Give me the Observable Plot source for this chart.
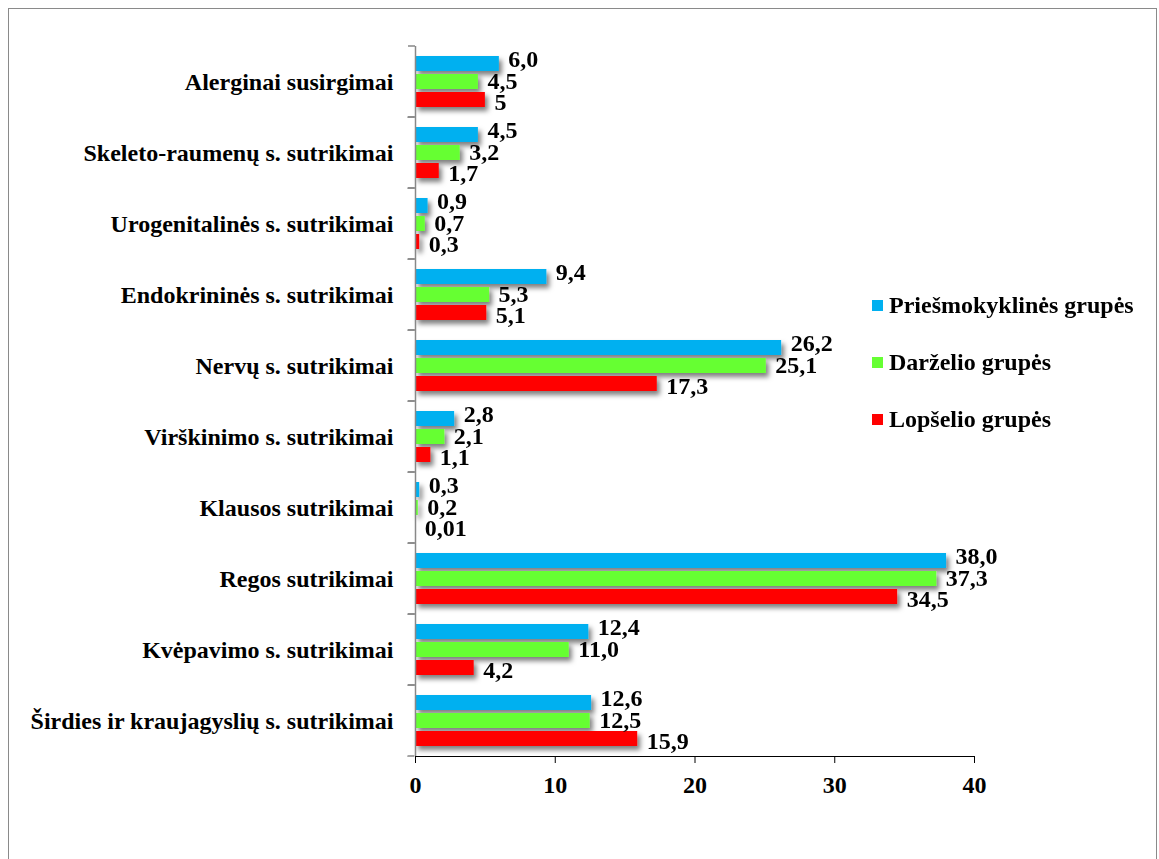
<!DOCTYPE html>
<html>
<head>
<meta charset="utf-8">
<script src="https://cdn.jsdelivr.net/npm/d3@7"></script>
<script src="https://cdn.jsdelivr.net/npm/@observablehq/plot@0.6"></script>
<style>
  html, body { margin: 0; padding: 0; background: #fff; overflow: hidden; }
  #wrap { position: relative; width: 1159px; height: 859px; }
  #border { position: absolute; left: 8px; top: 8px; width: 1149px; height: 900px; border: 1.5px solid #8a8a8a; box-sizing: border-box; pointer-events: none; }
  #chart { position: absolute; left: 0; top: 0; }
  #legend { position: absolute; left: 872px; top: 277px; font-family: "Liberation Serif", "Times New Roman", serif; font-weight: bold; font-size: 24px; color: #000; }
  .li { display: flex; align-items: center; height: 57px; white-space: nowrap; }
  .sw { width: 11px; height: 11px; margin-right: 6px; display: inline-block; }
  svg g[aria-label="x-axis tick"], svg g[aria-label="x-axis line"] { stroke: #888; }
</style>
</head>
<body>
<div id="wrap">
  <div id="chart"></div>
  <div id="legend"></div>
  <div id="border"></div>
</div>
<script>
const categories = [
  "Alerginai susirgimai",
  "Skeleto-raumenų s. sutrikimai",
  "Urogenitalinės s. sutrikimai",
  "Endokrininės s. sutrikimai",
  "Nervų s. sutrikimai",
  "Virškinimo s. sutrikimai",
  "Klausos sutrikimai",
  "Regos sutrikimai",
  "Kvėpavimo s. sutrikimai",
  "Širdies ir kraujagyslių s. sutrikimai"
];
const series = ["Priešmokyklinės grupės", "Darželio grupės", "Lopšelio grupės"];
const colors = ["#00B0F0", "#66FF33", "#FF0000"];

const priesValues = [6.0, 4.5, 0.9, 9.4, 26.2, 2.8, 0.3, 38.0, 12.4, 12.6];
const darzValues  = [4.5, 3.2, 0.7, 5.3, 25.1, 2.1, 0.2, 37.3, 11.0, 12.5];
const lopsValues  = [5, 1.7, 0.3, 5.1, 17.3, 1.1, 0.01, 34.5, 4.2, 15.9];

const priesLabels = ["6,0", "4,5", "0,9", "9,4", "26,2", "2,8", "0,3", "38,0", "12,4", "12,6"];
const darzLabels  = ["4,5", "3,2", "0,7", "5,3", "25,1", "2,1", "0,2", "37,3", "11,0", "12,5"];
const lopsLabels  = ["5", "1,7", "0,3", "5,1", "17,3", "1,1", "0,01", "34,5", "4,2", "15,9"];

const xTicks = [0, 10, 20, 30, 40];

const valueSets = [priesValues, darzValues, lopsValues];
const labelSets = [priesLabels, darzLabels, lopsLabels];
const rows = [];
categories.forEach((c, i) => {
  series.forEach((s, j) => {
    rows.push({cat: c, series: s, value: valueSets[j][i], label: labelSets[j][i]});
  });
});

const W = 1159, H = 859;
const mL = 415, mR = 185, mT = 43, mB = 100;
const plotW = W - mL - mR;
const facetH = (H - mT - mB) / categories.length;
const tickLen = 0.5 * plotW / 40;
const font = "'Liberation Serif', 'Times New Roman', serif";
const labelDy = [-5, -1, 2];

const chart = Plot.plot({
  width: W, height: H,
  marginLeft: mL, marginRight: mR, marginTop: mT, marginBottom: mB,
  style: {fontFamily: font, fontWeight: "bold", fontSize: "24px", color: "#000", background: "transparent", overflow: "visible"},
  x: {domain: [0, 40], ticks: xTicks, tickSize: 7, tickPadding: 12, line: true, label: null},
  y: {domain: series, axis: null, paddingInner: 0.19, paddingOuter: 0.53},
  fy: {domain: categories, padding: 0, axis: "left", label: null, tickSize: 0, tickPadding: 22},
  color: {domain: series, range: colors},
  marks: [
    Plot.barX(rows, {fy: "cat", y: "series", x: "value", fill: "series"}),
    Plot.ruleX([0], {stroke: "#888", strokeWidth: 1.5}),
    Plot.rect(categories, {fy: d => d, x1: -0.5, x2: 0, fill: "none", stroke: "#888", strokeWidth: 1.5, strokeDasharray: `${tickLen},${facetH}`}),
    ...series.map((s, j) => Plot.text(rows.filter(r => r.series === s), {fy: "cat", y: "series", x: "value", text: "label", textAnchor: "start", dx: 9, dy: labelDy[j], fontSize: 24, fontWeight: "bold", fill: "#000"}))
  ]
});

// drop shadow on bars
const ns = "http://www.w3.org/2000/svg";
const defs = document.createElementNS(ns, "defs");
defs.innerHTML = '<filter id="barShadow" x="-10%" y="-40%" width="130%" height="200%"><feDropShadow dx="3" dy="4" stdDeviation="2.4" flood-color="#000" flood-opacity="0.5"/></filter>';
chart.insertBefore(defs, chart.firstChild);
chart.querySelectorAll('g[aria-label="bar"]').forEach(g => g.setAttribute("filter", "url(#barShadow)"));

document.getElementById("chart").appendChild(chart);

const legend = document.getElementById("legend");
series.forEach((s, j) => {
  const row = document.createElement("div");
  row.className = "li";
  const sw = document.createElement("span");
  sw.className = "sw";
  sw.style.background = colors[j];
  const t = document.createElement("span");
  t.textContent = s;
  row.appendChild(sw);
  row.appendChild(t);
  legend.appendChild(row);
});
</script>
</body>
</html>
